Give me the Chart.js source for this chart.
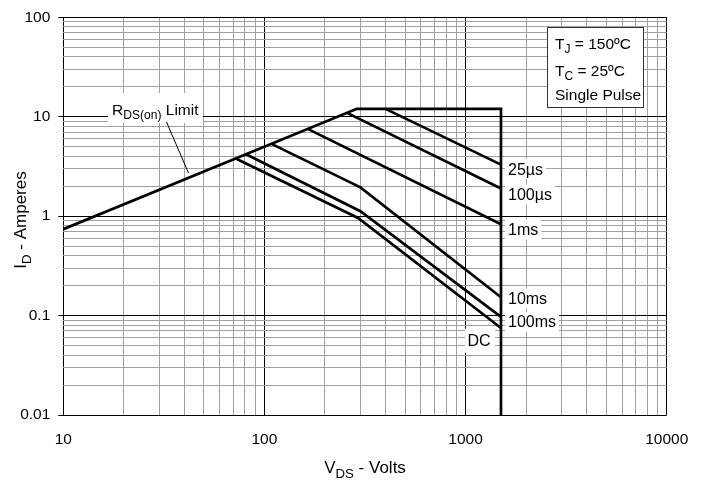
<!DOCTYPE html>
<html><head><meta charset="utf-8">
<script src="https://cdn.jsdelivr.net/npm/chart.js@4"></script>
<style>html,body{margin:0;padding:0;background:#fff}#wrap{width:708px;height:482px;position:relative}</style>
</head><body><div id="wrap"><canvas id="c"></canvas></div>
<script>
// ---- data ----
const xTickLabels = [10, 100, 1000, 10000];
const yTickLabels = [0.01, 0.1, 1, 10, 100];
// Safe operating area outline (RDS(on) limit, current limit, voltage limit)
const soaV = [10, 288, 1500, 1500];
const soaI = [0.74, 12, 12, 0.01];
// pulse-width curves
const v25us = [400, 1500],        i25us = [12, 3.3];
const v100us = [256, 1500],       i100us = [11, 1.9];
const v1ms = [165, 1500],         i1ms = [7.5, 0.83];
const v10ms = [109, 300, 1500],   i10ms = [5.3, 1.95, 0.153];
const v100ms = [81, 300, 1500],   i100ms = [4.2, 1.12, 0.097];
const vDC = [72, 292, 1500],      iDC = [3.8, 0.96, 0.075];
const curveLabels = ['25µs', '100µs', '1ms', '10ms', '100ms'];
const curveLabelI = [2.97, 1.65, 0.73, 0.148, 0.086];
const dcLabelV = 1167, dcLabelI = 0.0558;
const voltLimit = 1500;

const FONT = '"Liberation Sans", Arial, sans-serif';
const SUB = 0.78;
const isMajor = v => Math.abs(Math.log10(v) - Math.round(Math.log10(v))) < 1e-9;
const pts = (v, i) => v.map((x, k) => ({x: x, y: i[k]}));
const mk = (v, i) => ({data: pts(v, i), borderColor: '#000', borderWidth: 2.7, pointRadius: 0,
  showLine: true, fill: false, tension: 0, borderJoinStyle: 'miter', borderCapStyle: 'butt'});

function logTicks(min, max) {
  const out = [];
  for (let e = Math.round(Math.log10(min)); e < Math.round(Math.log10(max)); e++) {
    for (let k = 1; k <= 9; k++) out.push({value: Number((k * Math.pow(10, e)).toPrecision(6))});
  }
  out.push({value: max});
  return out;
}

function drawRich(ctx, parts, x, y, size, align) {
  let w = 0;
  parts.forEach(p => { ctx.font = (p[1] ? size * SUB : size) + 'px ' + FONT; p.w = ctx.measureText(p[0]).width; w += p.w; });
  let cx = align === 'center' ? x - w / 2 : x;
  ctx.textAlign = 'left'; ctx.textBaseline = 'alphabetic';
  parts.forEach(p => {
    ctx.font = (p[1] ? size * SUB : size) + 'px ' + FONT;
    ctx.fillText(p[0], cx, y + (p[1] ? size * 0.28 : 0));
    cx += p.w;
  });
  return w;
}

const annot = {
  id: 'annot',
  beforeDatasetsDraw(chart) {
    const ctx = chart.ctx, xs = chart.scales.x, ys = chart.scales.y;
    ctx.save();
    ctx.fillStyle = '#000';
    // curve labels at the voltage limit
    const lx = xs.getPixelForValue(voltLimit) + 7;
    ctx.font = '16px ' + FONT;
    curveLabels.forEach((t, k) => {
      const y = ys.getPixelForValue(curveLabelI[k]);
      const w = ctx.measureText(t).width;
      ctx.fillStyle = '#fff';
      ctx.fillRect(lx - 3, y - 10, w + 6, 20);
      ctx.fillStyle = '#000';
      ctx.textAlign = 'left'; ctx.textBaseline = 'middle';
      ctx.fillText(t, lx, y + 1);
    });
    // DC label
    const dx = xs.getPixelForValue(dcLabelV), dy = ys.getPixelForValue(dcLabelI);
    ctx.fillStyle = '#fff';
    ctx.fillRect(dx - 14, dy - 12, 30, 24);
    ctx.fillStyle = '#000';
    ctx.textAlign = 'center'; ctx.textBaseline = 'middle';
    ctx.fillText('DC', dx, dy + 1);
    // RDS(on) limit label
    ctx.fillStyle = '#fff';
    ctx.fillRect(108, 93, 95, 30);
    ctx.fillStyle = '#000';
    drawRich(ctx, [['R'], ['DS(on)', 1], [' Limit']], 112, 115, 15.5, 'left');
    ctx.strokeStyle = '#000'; ctx.lineWidth = 1;
    ctx.beginPath(); ctx.moveTo(166.5, 122); ctx.lineTo(188.5, 173); ctx.stroke();
    // conditions box
    ctx.fillStyle = '#fff';
    ctx.fillRect(547, 27, 96, 80);
    ctx.strokeStyle = '#333'; ctx.lineWidth = 1;
    ctx.strokeRect(547.5, 27.5, 96, 80);
    ctx.fillStyle = '#000';
    drawRich(ctx, [['T'], ['J', 1], [' = 150ºC']], 555, 49, 15.5, 'left');
    drawRich(ctx, [['T'], ['C', 1], [' = 25ºC']], 555, 76, 15.5, 'left');
    drawRich(ctx, [['Single Pulse']], 555, 100, 15.5, 'left');
    ctx.restore();
  },
  afterDraw(chart) {
    const ctx = chart.ctx;
    ctx.save();
    ctx.fillStyle = '#000';
    drawRich(ctx, [['V'], ['DS', 1], [' - Volts']], 365, 473, 17, 'center');
    ctx.translate(26, 220);
    ctx.rotate(-Math.PI / 2);
    drawRich(ctx, [['I'], ['D', 1], [' - Amperes']], 0, 0, 17, 'center');
    ctx.restore();
  }
};

new Chart(document.getElementById('c'), {
  type: 'scatter',
  data: {datasets: [mk(soaV, soaI), mk(v25us, i25us), mk(v100us, i100us), mk(v1ms, i1ms),
    mk(v10ms, i10ms), mk(v100ms, i100ms), mk(vDC, iDC)]},
  options: {
    responsive: true, maintainAspectRatio: false, animation: false, events: [],
    layout: {padding: {left: 0, right: 41.3, top: 14, bottom: 0}},
    plugins: {legend: {display: false}, tooltip: {enabled: false}, title: {display: false}},
    scales: {
      x: {
        type: 'logarithmic', min: 10, max: 10000, position: 'bottom',
        afterBuildTicks(s) { s.ticks = logTicks(10, 10000); },
        afterFit(s) { s.height = 67; },
        border: {display: false},
        grid: {color: c => isMajor(c.tick.value) ? '#000' : '#a0a0a0', lineWidth: 1, drawTicks: false},
        ticks: {autoSkip: false, maxRotation: 0, padding: 15, color: '#000',
          font: {family: FONT, size: 15.5},
          callback: v => xTickLabels.includes(v) ? String(v) : ''}
      },
      y: {
        type: 'logarithmic', min: 0.01, max: 100, position: 'left',
        afterBuildTicks(s) { s.ticks = logTicks(0.01, 100); },
        afterFit(s) { s.width = 63.3; },
        border: {display: false},
        grid: {color: c => isMajor(c.tick.value) ? '#000' : '#a0a0a0', lineWidth: 1,
          tickLength: 5, tickColor: c => isMajor(c.tick.value) ? '#000' : 'rgba(0,0,0,0)'},
        ticks: {autoSkip: false, padding: 8, color: '#000',
          font: {family: FONT, size: 15.5},
          callback: v => yTickLabels.some(t => Math.abs(t - v) < 1e-12) ? String(v) : ''}
      }
    }
  },
  plugins: [annot]
});
</script></body></html>
